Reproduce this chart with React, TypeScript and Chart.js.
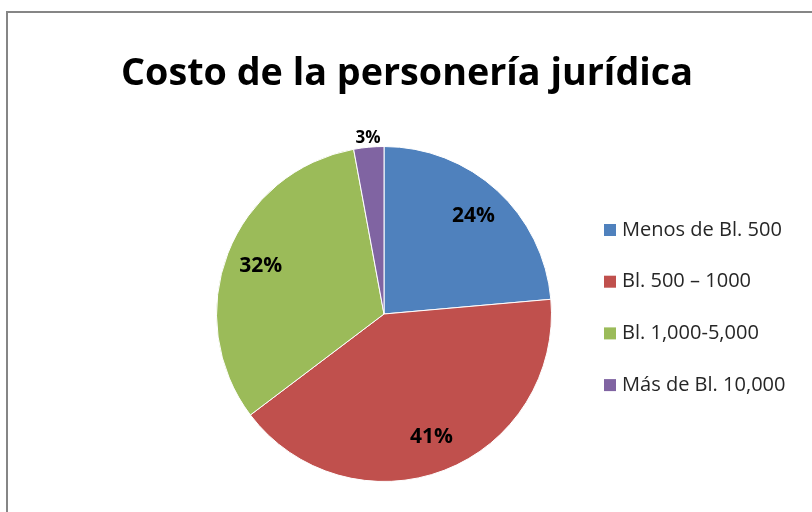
import React, { useEffect, useRef } from "react";
import { Chart, registerables } from "chart.js";

Chart.register(...registerables);

const title = "Costo de la personería jurídica";
const categories = ["Menos de Bl. 500", "Bl. 500 – 1000", "Bl. 1,000-5,000", "Más de Bl. 10,000"];
const values = [23.6, 41.1, 32.4, 2.9];
const colors = ["#4F81BD", "#C0504D", "#9BBB59", "#8064A2"];

const FONT = "'Open Sans', 'Liberation Sans', sans-serif";

function fitFont(ctx: CanvasRenderingContext2D, text: string, weight: string, width: number) {
  ctx.font = `${weight} 40px ${FONT}`;
  const w = ctx.measureText(text).width;
  const size = (40 * width) / w;
  return `${weight} ${size}px ${FONT}`;
}

const decor = {
  id: "decor",
  beforeDraw(chart: any) {
    const ctx = chart.ctx as CanvasRenderingContext2D;
    ctx.save();
    ctx.fillStyle = "#fff";
    ctx.fillRect(0, 0, chart.width, chart.height);
    ctx.strokeStyle = "#868686";
    ctx.lineWidth = 2;
    ctx.beginPath();
    ctx.moveTo(7, 520);
    ctx.lineTo(7, 12);
    ctx.lineTo(820, 12);
    ctx.stroke();
    ctx.restore();
  },
  afterDraw(chart: any) {
    const ctx = chart.ctx as CanvasRenderingContext2D;
    ctx.save();
    // title
    ctx.font = fitFont(ctx, title, "bold", 572);
    ctx.fillStyle = "#000";
    ctx.textAlign = "center";
    ctx.textBaseline = "middle";
    ctx.fillText(title, 407, 74);

    // percentage labels
    const meta = chart.getDatasetMeta(0);
    const total = values.reduce((a, b) => a + b, 0);
    meta.data.forEach((arc: any, i: number) => {
      const { x, y, startAngle, endAngle, outerRadius } = arc.getProps(
        ["x", "y", "startAngle", "endAngle", "outerRadius"], true
      );
      const mid = (startAngle + endAngle) / 2;
      const pct = Math.round((values[i] / total) * 100) + "%";
      const small = values[i] / total < 0.05;
      ctx.font = small ? `bold 17px ${FONT}` : `bold 21px ${FONT}`;
      const r = small ? outerRadius + 9 : outerRadius * 0.79;
      ctx.fillText(pct, x + Math.cos(mid) * r, y + Math.sin(mid) * r);
    });

    // legend
    ctx.textAlign = "left";
    ctx.font = fitFont(ctx, categories[0], "normal", 160);
    categories.forEach((c, i) => {
      const y = 230 + i * 51.7;
      ctx.fillStyle = colors[i];
      ctx.fillRect(604, y - 6, 12, 12);
      ctx.fillStyle = "#262626";
      ctx.fillText(c, 622, y);
    });
    ctx.restore();
  },
};

export default function App() {
  const ref = useRef<HTMLCanvasElement>(null);
  useEffect(() => {
    document.body.style.margin = "0";
    const chart = new Chart(ref.current!, {
      type: "pie",
      data: {
        labels: categories,
        datasets: [
          {
            data: values,
            backgroundColor: colors,
            borderColor: "#fff",
            borderWidth: 1,
          },
        ],
      },
      options: {
        animation: false,
        responsive: false,
        layout: { padding: { left: 216, right: 260, top: 146, bottom: 30 } },
        plugins: {
          legend: { display: false },
          title: { display: false },
          tooltip: { enabled: false },
        },
      },
      plugins: [decor],
    });
    return () => chart.destroy();
  }, []);
  return (
    <div style={{ width: 812, height: 512 }}>
      <canvas ref={ref} width={812} height={512} style={{ width: 812, height: 512, display: "block" }} />
    </div>
  );
}
